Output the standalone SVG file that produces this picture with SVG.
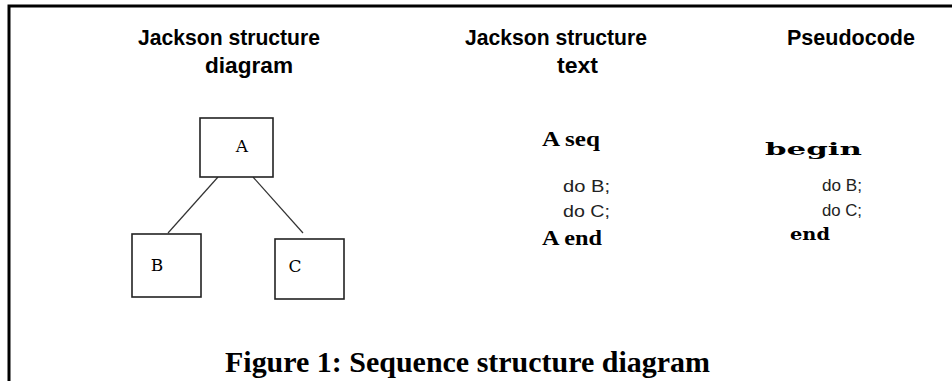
<svg xmlns="http://www.w3.org/2000/svg" width="952" height="381" viewBox="0 0 952 381">
<style>
.frame{stroke:#000;stroke-width:3;fill:none}
.box{fill:#fff;stroke:#222;stroke-width:1.6}
.edge{stroke:#333;stroke-width:1.2;fill:none}
.head{font-family:"Liberation Sans",Arial,sans-serif;font-weight:bold;font-size:21.5px;fill:#000}
.lbl{font-family:"DejaVu Serif","Liberation Serif",serif;font-size:17px;fill:#000}
.kw{font-family:"Liberation Serif","Times New Roman",serif;font-weight:bold;font-size:20px;fill:#000}
.mono{font-family:"DejaVu Serif","Liberation Serif",serif;font-weight:bold;font-size:17px;fill:#000}
.code{font-family:"Liberation Sans",Arial,sans-serif;font-size:17px;fill:#222}
.cap{font-family:"Liberation Serif","Times New Roman",serif;font-weight:bold;font-size:30px;fill:#000}
</style>
<rect width="952" height="381" fill="#fff"/>
<path class="frame" d="M9 381 V6 H952"/>
<g id="headings">
<text class="head" x="138" y="45" textLength="182" lengthAdjust="spacingAndGlyphs">Jackson structure</text>
<text class="head" x="205" y="73" textLength="88" lengthAdjust="spacingAndGlyphs">diagram</text>
<text class="head" x="465" y="45" textLength="182" lengthAdjust="spacingAndGlyphs">Jackson structure</text>
<text class="head" x="557" y="73" textLength="41" lengthAdjust="spacingAndGlyphs">text</text>
<text class="head" x="787" y="45" textLength="128" lengthAdjust="spacingAndGlyphs">Pseudocode</text>
</g>
<g id="connectors">
<line class="edge" x1="218" y1="177" x2="168" y2="233"/>
<line class="edge" x1="253" y1="177" x2="303" y2="233"/>
</g>
<g id="node-A">
<rect class="box" x="200" y="118" width="73" height="59"/>
<text class="lbl" x="242" y="152" text-anchor="middle">A</text>
</g>
<g id="node-B">
<rect class="box" x="132" y="234" width="69" height="63"/>
<text class="lbl" x="157" y="271" text-anchor="middle">B</text>
</g>
<g id="node-C">
<rect class="box" x="275" y="239" width="69" height="60"/>
<text class="lbl" x="295" y="272" text-anchor="middle">C</text>
</g>
<g id="jsp-text">
<text class="kw" x="542" y="146" textLength="58" lengthAdjust="spacingAndGlyphs">A seq</text>
<text class="code" x="563" y="192" textLength="47" lengthAdjust="spacingAndGlyphs">do B;</text>
<text class="code" x="563" y="217" textLength="47" lengthAdjust="spacingAndGlyphs">do C;</text>
<text class="kw" x="542" y="245" textLength="60" lengthAdjust="spacingAndGlyphs">A end</text>
</g>
<g id="pseudocode">
<text class="mono" x="765" y="155" textLength="97" lengthAdjust="spacingAndGlyphs">begin</text>
<text class="code" x="822" y="191" textLength="40" lengthAdjust="spacingAndGlyphs">do B;</text>
<text class="code" x="822" y="216" textLength="40" lengthAdjust="spacingAndGlyphs">do C;</text>
<text class="mono" x="790" y="240" textLength="40" lengthAdjust="spacingAndGlyphs">end</text>
</g>
<text id="caption" class="cap" x="225" y="372" textLength="485" lengthAdjust="spacingAndGlyphs">Figure 1: Sequence structure diagram</text>
</svg>
